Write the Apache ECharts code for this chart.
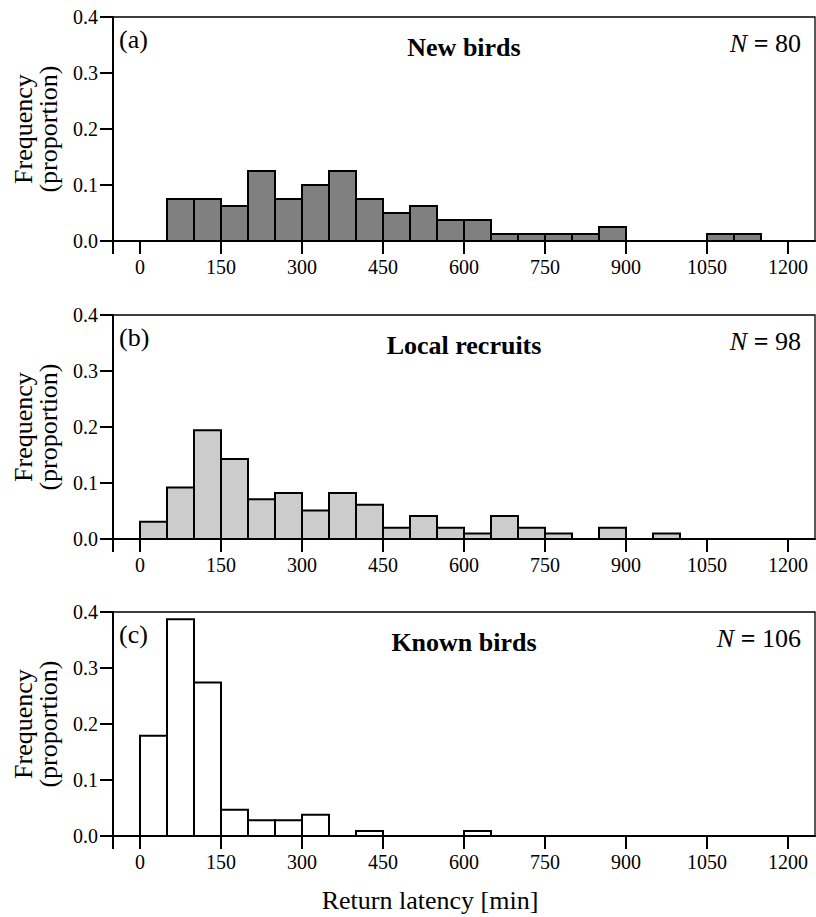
<!DOCTYPE html>
<html>
<head>
<meta charset="utf-8">
<script src="https://cdn.jsdelivr.net/npm/echarts@6/dist/echarts.min.js"></script>
<style>
  html, body { margin: 0; padding: 0; background: #fff; }
  #chart { width: 816px; height: 917px; }
</style>
</head>
<body>
<div id="chart"></div>
<script>
// Return latency histograms, three panels
var binEdges = [0, 50, 100, 150, 200, 250, 300, 350, 400, 450, 500, 550, 600,
  650, 700, 750, 800, 850, 900, 950, 1000, 1050, 1100, 1150, 1200];

var newBirds = [0, 0.075, 0.075, 0.0625, 0.125, 0.075, 0.1, 0.125, 0.075, 0.05, 0.0625, 0.0375,
  0.0375, 0.0125, 0.0125, 0.0125, 0.0125, 0.025, 0, 0, 0, 0.0125, 0.0125, 0];
var localRecruits = [0.031, 0.092, 0.194, 0.143, 0.071, 0.082, 0.051, 0.082, 0.061, 0.020, 0.041, 0.020,
  0.010, 0.041, 0.020, 0.010, 0, 0.020, 0, 0.010, 0, 0, 0, 0];
var knownBirds = [0.179, 0.387, 0.274, 0.047, 0.028, 0.028, 0.038, 0, 0.009, 0, 0, 0,
  0.009, 0, 0, 0, 0, 0, 0, 0, 0, 0, 0, 0];

var xTicks = [-50, 0, 150, 300, 450, 600, 750, 900, 1050, 1200];
var xTickLabels = [0, 150, 300, 450, 600, 750, 900, 1050, 1200];

var panels = [
  { tag: '(a)', title: 'New birds', n: 80, data: newBirds, color: '#808080', top: 17 },
  { tag: '(b)', title: 'Local recruits', n: 98, data: localRecruits, color: '#cccccc', top: 315 },
  { tag: '(c)', title: 'Known birds', n: 106, data: knownBirds, color: '#ffffff', top: 612 }
];

var font = 'Liberation Serif';
var plotLeft = 113, plotH = 224;

var chart = echarts.init(document.getElementById('chart'), null, { renderer: 'svg' });

function makeRender(fill) {
  return function(params, api) {
    var p0 = api.coord([api.value(0), api.value(2)]);
    var p1 = api.coord([api.value(1), 0]);
    return {
      type: 'rect',
      shape: { x: p0[0], y: p0[1], width: p1[0] - p0[0], height: p1[1] - p0[1] },
      style: { fill: fill, stroke: '#000', lineWidth: 2 }
    };
  };
}

var grids = [], xAxes = [], yAxes = [], series = [], titles = [];

panels.forEach(function(p, i) {
  grids.push({
    left: plotLeft, right: 1, top: p.top, height: plotH,
    show: true, borderColor: '#000', borderWidth: 1.3, backgroundColor: 'transparent'
  });
  xAxes.push({
    type: 'value', gridIndex: i, min: -50, max: 1250,
    axisLine: { show: true, onZero: false, lineStyle: { color: '#000', width: 2 } },
    axisTick: { show: true, customValues: xTicks, length: 13, lineStyle: { color: '#000', width: 2 } },
    axisLabel: {
      customValues: xTickLabels, color: '#000', fontFamily: font, fontSize: 20, margin: 16,
      formatter: function(v) { return String(v); }
    },
    splitLine: { show: false }
  });
  yAxes.push({
    type: 'value', gridIndex: i, min: 0, max: 0.4, interval: 0.1,
    name: 'Frequency\n(proportion)', nameLocation: 'middle', nameRotate: 90, nameGap: 52,
    nameTextStyle: { color: '#000', fontFamily: font, fontSize: 26, lineHeight: 25 },
    axisLine: { show: true, onZero: false, lineStyle: { color: '#000', width: 2 } },
    axisTick: { show: true, length: 13, lineStyle: { color: '#000', width: 2 } },
    axisLabel: {
      color: '#000', fontFamily: font, fontSize: 20, margin: 15,
      formatter: function(v) { return v.toFixed(1); }
    },
    splitLine: { show: false }
  });
  series.push({
    type: 'custom', xAxisIndex: i, yAxisIndex: i,
    renderItem: makeRender(p.color),
    data: p.data.map(function(v, k) { return [binEdges[k], binEdges[k + 1], v]; }),
    z: 3
  });
  titles.push({
    text: p.tag, left: 119, top: p.top + 9, padding: 0,
    textStyle: { color: '#000', fontFamily: font, fontSize: 26, fontWeight: 'normal' }
  });
  titles.push({
    text: p.title, left: 464, top: p.top + 17, padding: 0, textAlign: 'center',
    textStyle: { color: '#000', fontFamily: font, fontSize: 26, fontWeight: 'bold' }
  });
  titles.push({
    text: '{i|N} {b|=} ' + p.n, right: 15, top: p.top + 13, padding: 0,
    textStyle: {
      color: '#000', fontFamily: font, fontSize: 26, fontWeight: 'normal',
      rich: {
        i: { fontFamily: font, fontSize: 26, fontStyle: 'italic', color: '#000' },
        b: { fontFamily: font, fontSize: 26, fontWeight: 'bold', color: '#000' }
      }
    }
  });
});

titles.push({
  text: 'Return latency [min]', left: 430, top: 887, padding: 0, textAlign: 'center',
  textStyle: { color: '#000', fontFamily: font, fontSize: 26, fontWeight: 'normal' }
});

chart.setOption({
  animation: false,
  backgroundColor: '#fff',
  title: titles,
  grid: grids,
  xAxis: xAxes,
  yAxis: yAxes,
  series: series
});
</script>
</body>
</html>
